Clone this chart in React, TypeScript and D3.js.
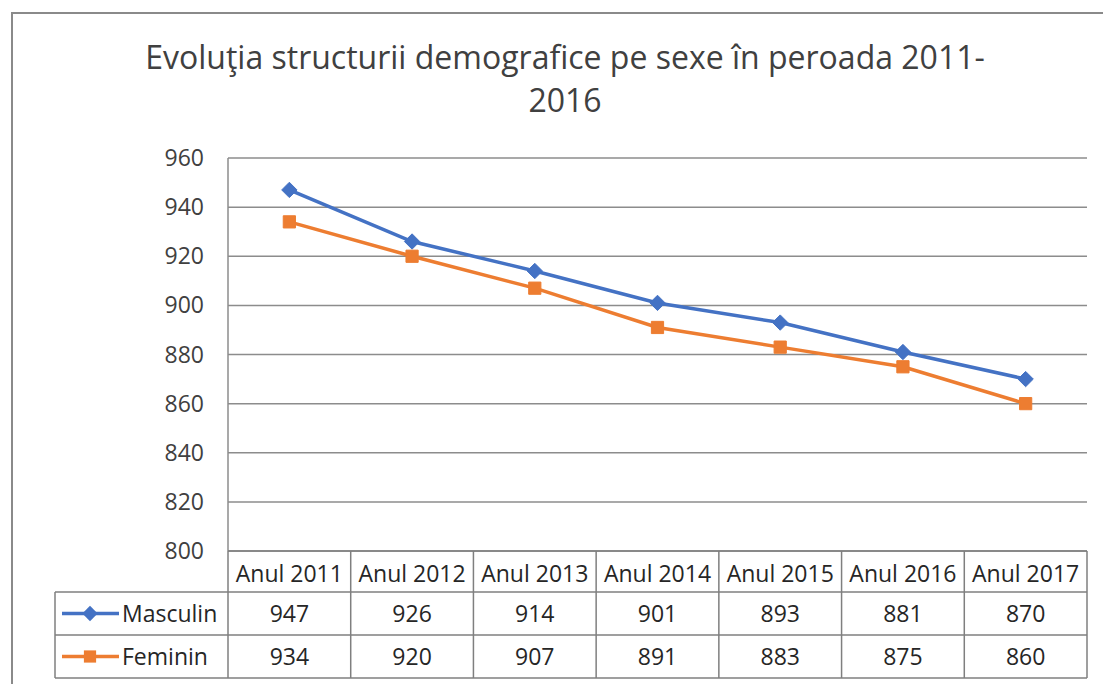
import React, { useEffect, useRef } from 'react';
import * as d3 from 'd3';

const years = ['Anul 2011', 'Anul 2012', 'Anul 2013', 'Anul 2014', 'Anul 2015', 'Anul 2016', 'Anul 2017'];
const masculin = [947, 926, 914, 901, 893, 881, 870];
const feminin = [934, 920, 907, 891, 883, 875, 860];
const yTicks = [800, 820, 840, 860, 880, 900, 920, 940, 960];
const titleLines = ['Evoluţia structurii demografice pe sexe în peroada 2011-', '2016'];

const series = [
    { name: 'Masculin', values: masculin, color: '#4472C4', marker: 'diamond' },
    { name: 'Feminin', values: feminin, color: '#ED7D31', marker: 'square' },
];

const W = 1103;
const H = 684;
const FONT = '"Open Sans", sans-serif';

const App = () => {
    const svgRef = useRef<SVGSVGElement>(null);

    useEffect(() => {
        const svg = d3.select(svgRef.current);
        svg.selectAll('*').remove();

        const plot = { left: 228, right: 1087, top: 158, bottom: 551 };
        const rowH = [41, 43, 43]; // header row, then one row per series
        const legendLeft = 55;

        const x = d3.scaleBand().domain(years).range([plot.left, plot.right]);
        const y = d3.scaleLinear().domain([800, 960]).range([plot.bottom, plot.top]);

        // chart frame
        svg.append('path')
            .attr('d', `M12,${H} L12,13 L${W},13`)
            .attr('fill', 'none')
            .attr('stroke', '#8a8a8a')
            .attr('stroke-width', 2);

        // title
        svg.append('g')
            .selectAll('text')
            .data(titleLines)
            .join('text')
            .attr('x', 565)
            .attr('y', (d, i) => 69 + i * 43)
            .attr('text-anchor', 'middle')
            .attr('font-family', FONT)
            .attr('font-size', 32)
            .attr('fill', '#404040')
            .text(d => d);

        // gridlines
        svg.append('g')
            .selectAll('line')
            .data(yTicks)
            .join('line')
            .attr('x1', plot.left)
            .attr('x2', plot.right)
            .attr('y1', d => y(d))
            .attr('y2', d => y(d))
            .attr('stroke', '#8c8c8c')
            .attr('stroke-width', 1.5);

        // y axis line
        svg.append('line')
            .attr('x1', plot.left).attr('x2', plot.left)
            .attr('y1', plot.top).attr('y2', plot.bottom)
            .attr('stroke', '#8c8c8c').attr('stroke-width', 1.5);

        // y tick labels
        svg.append('g')
            .selectAll('text')
            .data(yTicks)
            .join('text')
            .attr('x', 204)
            .attr('y', d => y(d) + 8)
            .attr('text-anchor', 'end')
            .attr('font-family', FONT)
            .attr('font-size', 23)
            .attr('fill', '#404040')
            .text(d => d);

        // lines
        const cx = (i: number) => (x(years[i]) ?? 0) + x.bandwidth() / 2;
        const line = d3.line<number>()
            .x((d, i) => cx(i))
            .y(d => y(d));

        const diamond = d3.symbol().type(d3.symbolDiamond2).size(150);
        const square = d3.symbol().type(d3.symbolSquare2).size(190);

        series.forEach(s => {
            svg.append('path')
                .datum(s.values)
                .attr('d', line)
                .attr('fill', 'none')
                .attr('stroke', s.color)
                .attr('stroke-width', 3.5);

            svg.append('g')
                .selectAll('path')
                .data(s.values)
                .join('path')
                .attr('transform', (d, i) => `translate(${cx(i)},${y(d)})`)
                .attr('d', s.marker === 'diamond' ? diamond() : square())
                .attr('fill', s.color)
                .attr('stroke', s.color)
                .attr('stroke-width', 1);
        });

        // data table
        const table = svg.append('g');
        const rowTop = [plot.bottom, plot.bottom + rowH[0], plot.bottom + rowH[0] + rowH[1]];
        const tableBottom = rowTop[2] + rowH[2];
        const gridColor = '#7f7f7f';

        // horizontal rules
        table.append('line')
            .attr('x1', plot.left).attr('x2', plot.right)
            .attr('y1', rowTop[0]).attr('y2', rowTop[0])
            .attr('stroke', gridColor).attr('stroke-width', 1.5);
        [rowTop[1], rowTop[2], tableBottom].forEach(yy => {
            table.append('line')
                .attr('x1', legendLeft).attr('x2', plot.right)
                .attr('y1', yy).attr('y2', yy)
                .attr('stroke', gridColor).attr('stroke-width', 1.5);
        });

        // vertical rules
        table.append('line')
            .attr('x1', legendLeft).attr('x2', legendLeft)
            .attr('y1', rowTop[1]).attr('y2', tableBottom)
            .attr('stroke', gridColor).attr('stroke-width', 1.5);
        const bounds = years.map(d => x(d) ?? 0).concat([plot.right]);
        table.selectAll('line.v')
            .data(bounds)
            .join('line')
            .attr('class', 'v')
            .attr('x1', d => d).attr('x2', d => d)
            .attr('y1', rowTop[0]).attr('y2', tableBottom)
            .attr('stroke', gridColor).attr('stroke-width', 1.5);

        // header
        table.selectAll('text.hdr')
            .data(years)
            .join('text')
            .attr('class', 'hdr')
            .attr('x', (d, i) => cx(i))
            .attr('y', rowTop[0] + 31)
            .attr('text-anchor', 'middle')
            .attr('font-family', FONT)
            .attr('font-size', 23)
            .attr('fill', '#262626')
            .text(d => d);

        series.forEach((s, si) => {
            const top = rowTop[si + 1];
            const mid = top + rowH[si + 1] / 2;

            // legend key
            table.append('line')
                .attr('x1', 62).attr('x2', 119)
                .attr('y1', mid).attr('y2', mid)
                .attr('stroke', s.color).attr('stroke-width', 3.5);
            table.append('path')
                .attr('transform', `translate(90,${mid})`)
                .attr('d', s.marker === 'diamond' ? diamond() : square())
                .attr('fill', s.color);
            table.append('text')
                .attr('x', 122)
                .attr('y', mid + 8)
                .attr('font-family', FONT)
                .attr('font-size', 23)
                .attr('fill', '#262626')
                .text(s.name);

            table.selectAll(`text.v${si}`)
                .data(s.values)
                .join('text')
                .attr('class', `v${si}`)
                .attr('x', (d, i) => cx(i))
                .attr('y', mid + 8)
                .attr('text-anchor', 'middle')
                .attr('font-family', FONT)
                .attr('font-size', 23)
                .attr('fill', '#262626')
                .text(d => d);
        });
    }, []);

    return (
        <React.Fragment>
            <svg
                ref={svgRef}
                width={W}
                height={H}
                style={{ position: 'absolute', left: 0, top: 0, background: '#fff' }}
            />
        </React.Fragment>
    );
};

export default App;
